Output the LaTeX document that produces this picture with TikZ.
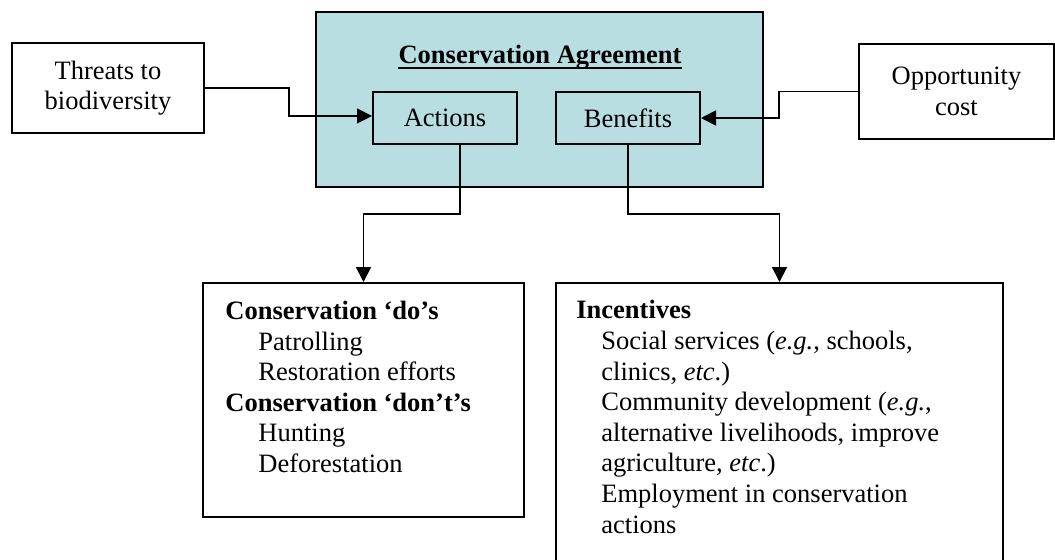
\documentclass[tikz,border=0pt]{standalone}
\usepackage{fontspec}
\setmainfont{Liberation Serif}
\usetikzlibrary{arrows.meta}
\definecolor{agreefill}{RGB}{184,222,226}
\begin{document}
\begin{tikzpicture}[x=0.5pt,y=-0.5pt,
  txt/.style={font=\fontsize{13.25pt}{15.3pt}\selectfont},
  box/.style={draw=black,line width=1pt,rectangle,inner sep=0pt,txt,align=center},
  conn/.style={draw=black,line width=0.9pt},
  arr/.style={conn,-{Triangle[length=7.5pt,width=7.5pt]}},
  listtext/.style={txt,inner sep=0pt,align=left,anchor=north west}]
\clip (0,0) rectangle (1055,559);
\useasboundingbox (0,0) rectangle (1055,559);

% top row
\node[box,minimum width=96pt,minimum height=45pt] (threats) at (108,88) {Threats to\\biodiversity};
\node[box,fill=agreefill,minimum width=223.5pt,minimum height=87.5pt] (agree) at (539.5,99.5) {};
\node[txt,inner sep=0pt,anchor=base,font=\fontsize{13.25pt}{15.3pt}\selectfont\bfseries] (title) at (540,63) {Conservation Agreement};
\draw[line width=1pt] ([yshift=-2.6pt]title.base west) -- ([yshift=-2.6pt]title.base east);
\node[box,fill=agreefill,minimum width=72pt,minimum height=25.75pt] (actions) at (445,117.75) {Actions};
\node[box,fill=agreefill,minimum width=72pt,minimum height=26pt] (benefits) at (628,118) {Benefits};
\node[box,minimum width=97.5pt,minimum height=47.5pt] (opp) at (956.5,91.5) {Opportunity\\cost};

% bottom row
\node[box,minimum width=160.5pt,minimum height=117pt] (dos) at (363.5,400) {};
\node[box,minimum width=223.5pt,minimum height=145pt] (inc) at (779.5,428) {};

\node[listtext] (dostext) at (225,300.6) {%
\textbf{Conservation ‘do’s}\\
\hspace*{16.5pt}Patrolling\\
\hspace*{16.5pt}Restoration efforts\\
\textbf{Conservation ‘don’t’s}\\
\hspace*{16.5pt}Hunting\\
\hspace*{16.5pt}Deforestation};

\node[listtext] (inctext) at (576,300) {%
\textbf{Incentives}\\
\hspace*{12.5pt}Social services (\textit{e.g.}, schools,\\
\hspace*{12.5pt}clinics, \textit{etc}.)\\
\hspace*{12.5pt}Community development (\textit{e.g.},\\
\hspace*{12.5pt}alternative livelihoods, improve\\
\hspace*{12.5pt}agriculture, \textit{etc}.)\\
\hspace*{12.5pt}Employment in conservation\\
\hspace*{12.5pt}actions};

% connectors
\draw[arr,line width=0.65pt] (threats.east) -- ++(84,0) |- ([yshift=0.9pt]actions.west);
\draw[arr] (opp.west) -- ++(-79,0) |- (benefits.east);
\draw[arr] ([xshift=7.5pt]actions.south) -- ++(0,69.5) -| (dos.north);
\draw[arr] (benefits.south) -- ++(0,69) -| (inc.north);
\end{tikzpicture}
\end{document}
